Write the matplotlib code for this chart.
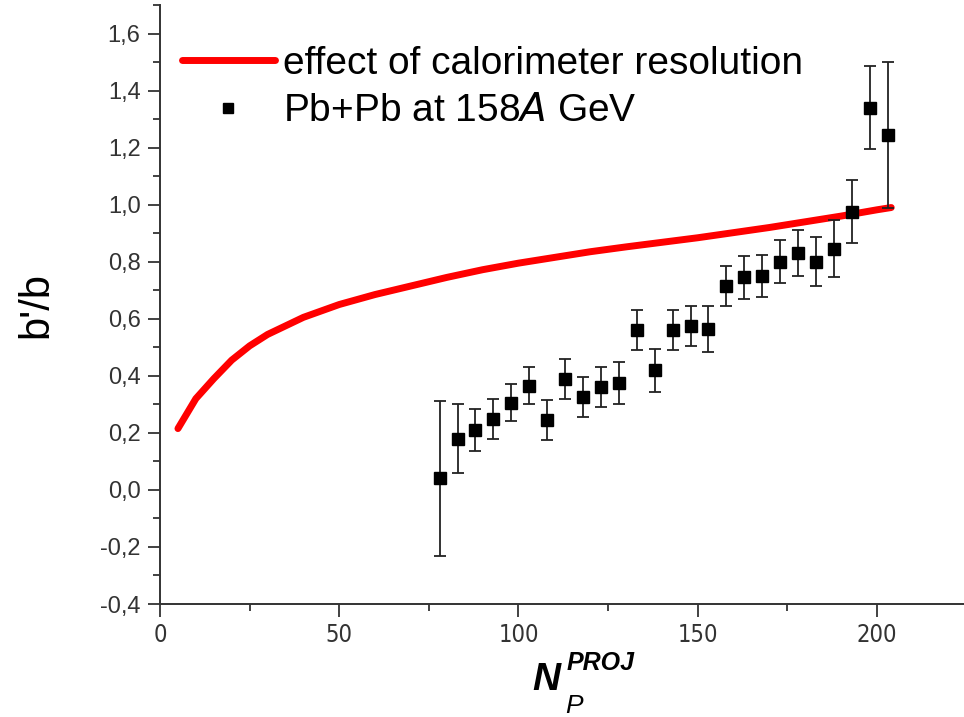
import matplotlib
matplotlib.use('Agg')
import matplotlib.pyplot as plt
from matplotlib import font_manager
from matplotlib.lines import Line2D
from matplotlib.ticker import MultipleLocator, FuncFormatter

plt.rcParams['font.family'] = ['Liberation Sans', 'DejaVu Sans']

# calorimeter resolution curve
curve_x = [5, 10, 15, 20, 25, 30, 40, 50, 60, 70, 80, 90, 100, 110, 120, 130,
           140, 150, 160, 170, 180, 190, 200, 204]
curve_y = [0.215, 0.32, 0.39, 0.455, 0.505, 0.545, 0.605, 0.650, 0.685, 0.715,
           0.745, 0.772, 0.795, 0.815, 0.835, 0.852, 0.868, 0.884, 0.902,
           0.920, 0.940, 0.960, 0.982, 0.990]

# Pb+Pb data
data_x = [78, 83, 88, 93, 98, 103, 108, 113, 118, 123, 128, 133, 138, 143, 148,
          153, 158, 163, 168, 173, 178, 183, 188, 193, 198, 203]
data_y = [0.04, 0.18, 0.21, 0.25, 0.305, 0.365, 0.245, 0.39, 0.325, 0.36, 0.375,
          0.56, 0.42, 0.56, 0.575, 0.565, 0.715, 0.745, 0.75, 0.80, 0.83, 0.80,
          0.845, 0.975, 1.34, 1.245]
data_err = [0.27, 0.12, 0.075, 0.07, 0.065, 0.065, 0.07, 0.07, 0.07, 0.07, 0.075,
            0.07, 0.075, 0.07, 0.07, 0.08, 0.07, 0.075, 0.075, 0.075, 0.08, 0.085,
            0.10, 0.11, 0.145, 0.255]

fig = plt.figure(figsize=(9.64, 7.17), dpi=100)
ax = fig.add_axes([0.166, 0.1576, 0.834, 0.8354])

ax.plot(curve_x, curve_y, color='#ff0000', linewidth=5,
        solid_capstyle='round', zorder=2)
ax.errorbar(data_x, data_y, yerr=data_err, fmt='s', color='black', markersize=9,
            ecolor='#222222', elinewidth=1.3, capsize=4.5, capthick=1.3, zorder=3)

ax.set_xlim(0, 224.3)
ax.set_ylim(-0.4, 1.7)

for s in ['top', 'right']:
    ax.spines[s].set_visible(False)
for s in ['left', 'bottom']:
    ax.spines[s].set_linewidth(1.4)
    ax.spines[s].set_color('#333333')

ax.xaxis.set_major_locator(MultipleLocator(50))
ax.xaxis.set_minor_locator(MultipleLocator(25))
ax.yaxis.set_major_locator(MultipleLocator(0.2))
ax.yaxis.set_minor_locator(MultipleLocator(0.1))
ax.yaxis.set_major_formatter(FuncFormatter(lambda v, p: f'{v:.1f}'.replace('.', ',')))
ax.tick_params(which='major', direction='out', length=9, width=1.3,
               colors='#333333', labelsize=17, pad=5)
ax.tick_params(which='minor', direction='out', length=5, width=1.3,
               colors='#333333')

# x tick labels use a narrow face in the original
names = {f.name for f in font_manager.fontManager.ttflist}
for lab in ax.get_xticklabels():
    if 'Liberation Sans Narrow' in names:
        lab.set_family('Liberation Sans Narrow')
        lab.set_fontsize(19)
    else:
        lab.set_family('DejaVu Sans')
        lab.set_stretch('condensed')
        lab.set_fontsize(17)

handles = [Line2D([], [], color='#ff0000', linewidth=5, solid_capstyle='round'),
           Line2D([], [], linestyle='none', marker='s', color='black', markersize=6.5)]
labels = ['effect of calorimeter resolution', 'Pb+Pb at 158$\\it{A}$ GeV']
ax.legend(handles, labels, loc='upper left', bbox_to_anchor=(0.027, 0.932),
          frameon=False, fontsize=28, handlelength=2.4, handletextpad=0.2,
          labelspacing=0.3, borderaxespad=0.0, borderpad=0.0)

ax.set_ylabel("b'/b", fontsize=30)
ax.yaxis.set_label_coords(-0.129, 0.5)

# x label: N_P^PROJ
fig.text(0.552, 0.037, 'N', fontsize=28, fontweight='bold', style='italic',
         ha='left', va='baseline')
fig.text(0.586, 0.006, 'P', fontsize=19, style='italic',
         ha='left', va='baseline')
fig.text(0.588, 0.065, 'PROJ', fontsize=18, fontweight='bold', style='italic',
         ha='left', va='baseline')

fig.savefig('out.png', dpi=100)
